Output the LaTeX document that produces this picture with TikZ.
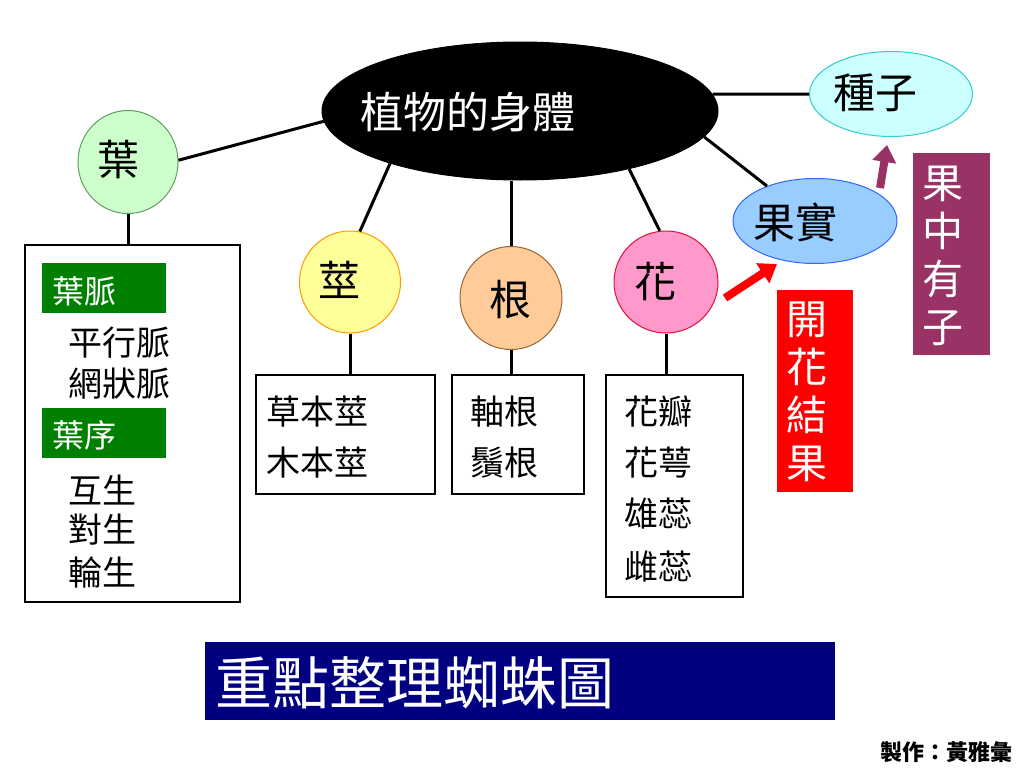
\documentclass[tikz,border=0pt]{standalone}
\usepackage{fontspec}
\newfontfamily\cjk{Noto Sans CJK TC}
\usetikzlibrary{shapes.geometric,arrows.meta}
\definecolor{leaffill}{HTML}{CCFFCC}
\definecolor{leafline}{HTML}{5E9E5E}
\definecolor{stemfill}{HTML}{FFFF99}
\definecolor{stemline}{HTML}{FF9900}
\definecolor{rootfill}{HTML}{FFCC99}
\definecolor{rootline}{HTML}{996633}
\definecolor{flowerfill}{HTML}{FF99CC}
\definecolor{flowerline}{HTML}{E0103C}
\definecolor{seedfill}{HTML}{CCFFFF}
\definecolor{seedline}{HTML}{33CCCC}
\definecolor{fruitfill}{HTML}{99CCFF}
\definecolor{fruitline}{HTML}{3366FF}
\definecolor{taggreen}{HTML}{008000}
\definecolor{plum}{HTML}{993366}
\definecolor{navy}{HTML}{000080}
\begin{document}
\begin{tikzpicture}[x=1pt,y=-1pt,
  conn/.style={line width=3pt},
  bubble/.style={ellipse, draw, line width=1pt, inner sep=0pt},
  listbox/.style={rectangle, draw, line width=2.5pt, inner sep=0pt},
  tagbox/.style={rectangle, fill=taggreen, inner sep=0pt, minimum width=124pt, minimum height=50pt},
  big/.style={font=\cjk\fontsize{42}{48}\selectfont, inner sep=0pt},
  item/.style={font=\cjk\fontsize{34}{40}\selectfont, anchor=west, inner sep=0pt},
  tagtext/.style={font=\cjk\fontsize{32}{38}\selectfont, anchor=west, inner sep=0pt, text=white},
  vtext/.style={font=\cjk\fontsize{41}{48}\selectfont, align=center, inner sep=0pt, text=white},
  fatarrow/.style={line width=8pt, -{Triangle[length=17pt,width=23pt]}}
]
\path[use as bounding box, fill=white] (0,0) rectangle (1024,768);

% main ellipse
\node[bubble, fill=black, minimum width=396pt, minimum height=138pt] (body) at (520,111) {};
\node[font=\cjk\fontsize{43}{48}\selectfont, text=white, inner sep=0pt] (bodytxt) at (468,112) {植物的身體};

% bubbles
\node[bubble, fill=leaffill, draw=leafline, minimum width=100pt, minimum height=103pt] (leaf) at (128,162) {};
\node[big] (leaftxt) at (118,160) {葉};
\node[bubble, fill=stemfill, draw=stemline, minimum width=101pt, minimum height=102pt] (stem) at (350,282) {};
\node[big] (stemtxt) at (339,280) {莖};
\node[bubble, fill=rootfill, draw=rootline, minimum width=102pt, minimum height=103pt] (root) at (511,298) {};
\node[big] (roottxt) at (510,300) {根};
\node[bubble, fill=flowerfill, draw=flowerline, minimum width=104pt, minimum height=102pt] (flower) at (666,282) {};
\node[big] (flowertxt) at (655,282) {花};
\node[bubble, fill=seedfill, draw=seedline, minimum width=163pt, minimum height=85pt] (seed) at (891,94) {};
\node[big] (seedtxt) at (875,93) {種子};
\node[bubble, fill=fruitfill, draw=fruitline, minimum width=164pt, minimum height=85pt] (fruit) at (815,221) {};
\node[big] (fruittxt) at (795,222) {果實};

% boxes
\node[listbox, minimum width=215pt, minimum height=357pt] (leafbox) at (132.5,423.5) {};
\node[listbox, minimum width=179pt, minimum height=119pt] (stembox) at (345.5,434.5) {};
\node[listbox, minimum width=132pt, minimum height=119pt] (rootbox) at (518,434.5) {};
\node[listbox, minimum width=137pt, minimum height=222pt] (flowerbox) at (674.5,486) {};

% connectors
\draw[conn] (leaf.2) -- (body.183);
\draw[conn] (body.202) -- (stem.79);
\draw[conn] (root.north) -- (root.north |- body.south);
\draw[conn] (body.332) -- (flower.97);
\draw[conn] (body.5) -- (seed.west);
\draw[conn] (body.352) -- (fruit.144);
\draw[conn] (leaf.south) -- (leaf.south |- leafbox.north);
\draw[conn] (stem.south) -- (stem.south |- stembox.north);
\draw[conn] (root.south) -- (root.south |- rootbox.north);
\draw[conn] (flower.south) -- (flower.south |- flowerbox.north);

% leaf box content
\node[tagbox] (veintag) at (104,288) {};
\node[tagtext] (veintxt) at (52,291) {葉脈};
\node[item] (v1) at (68,343) {平行脈};
\node[item] (v2) at (68,384) {網狀脈};
\node[tagbox] (ordertag) at (104,433) {};
\node[tagtext] (ordertxt) at (52,435) {葉序};
\node[item] (o1) at (68,490) {互生};
\node[item] (o2) at (68,530) {對生};
\node[item] (o3) at (68,572) {輪生};

% stem box
\node[item] (s1) at (266,412) {草本莖};
\node[item] (s2) at (266,463) {木本莖};
% root box
\node[item] (r1) at (470,412) {軸根};
\node[item] (r2) at (470,463) {鬚根};
% flower box
\node[item] (f1) at (624,412) {花瓣};
\node[item] (f2) at (624,463) {花萼};
\node[item] (f3) at (624,514) {雄蕊};
\node[item] (f4) at (624,566) {雌蕊};

% side labels
\node[rectangle, fill=red, inner sep=0pt, minimum width=76pt, minimum height=202pt] (bloombox) at (815,391) {};
\node[vtext] (bloomtxt) at (807,392) {開\\花\\結\\果};
\node[rectangle, fill=plum, inner sep=0pt, minimum width=77pt, minimum height=202pt] (seedbox) at (951.5,254) {};
\node[vtext] (seedboxtxt) at (943,256) {果\\中\\有\\子};

% arrows
\coordinate (redtail) at (725,298);
\coordinate (redtip) at (777,264);
\draw[fatarrow, red] (redtail) -- (redtip);
\coordinate (plumtail) at (880,188);
\coordinate (plumtip) at (887,145);
\draw[fatarrow, plum] (plumtail) -- (plumtip);

% title
\node[rectangle, fill=navy, inner sep=0pt, minimum width=630pt, minimum height=78pt] (titlebox) at (520,681) {};
\node[font=\cjk\fontsize{57}{62}\selectfont, text=white, inner sep=0pt] (titletxt) at (415,683) {重點整理蜘蛛圖};

% credit
\node[font=\cjk\bfseries\fontsize{22}{24}\selectfont, inner sep=0pt] (credit) at (946,752) {製作：黃雅彙};
\end{tikzpicture}
\end{document}
